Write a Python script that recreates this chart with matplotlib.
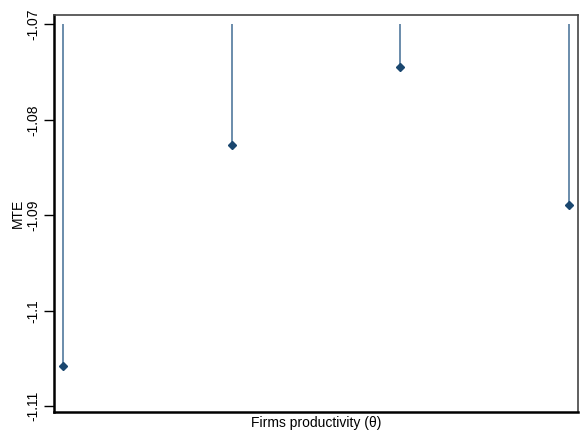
import matplotlib
matplotlib.use("Agg")
import matplotlib.pyplot as plt

plt.rcParams["font.family"] = ["Liberation Sans", "DejaVu Sans"]

# data
groups = [1, 2, 3, 4]
mte = [-1.1058, -1.0826, -1.0745, -1.0889]
base = -1.07
yticks = [-1.11, -1.1, -1.09, -1.08, -1.07]
ytick_labels = ["-1.11", "-1.1", "-1.09", "-1.08", "-1.07"]

navy = "#1a476f"

fig = plt.figure(figsize=(5.81, 4.38), dpi=100)
ax = fig.add_axes([54 / 581, 1 - 412 / 438, (578 - 54) / 581, (412 - 14.7) / 438])

ax.vlines(groups, mte, base, color="#5f83a5", linewidth=1.3)
ax.plot(groups, mte, linestyle="none", marker="D", markersize=4.5,
        color=navy, markeredgecolor=navy)

ax.set_xlim(0.947, 4.053)
ax.set_ylim(-1.1106, -1.069)
ax.set_xticks([])
ax.set_yticks(yticks)
ax.set_yticklabels(ytick_labels, rotation=90, va="center", fontsize=10)
ax.tick_params(axis="y", length=7, width=1, pad=3, color="black")

for side in ["left", "bottom"]:
    ax.spines[side].set_linewidth(1.8)
    ax.spines[side].set_color("black")
for side in ["top", "right"]:
    ax.spines[side].set_linewidth(1.2)
    ax.spines[side].set_color("#444444")

ax.set_ylabel("MTE", fontsize=10, labelpad=1)
ax.set_xlabel("Firms productivity (\u03b8)", fontsize=10, labelpad=3)

fig.savefig("out.png", dpi=100, facecolor="white")
